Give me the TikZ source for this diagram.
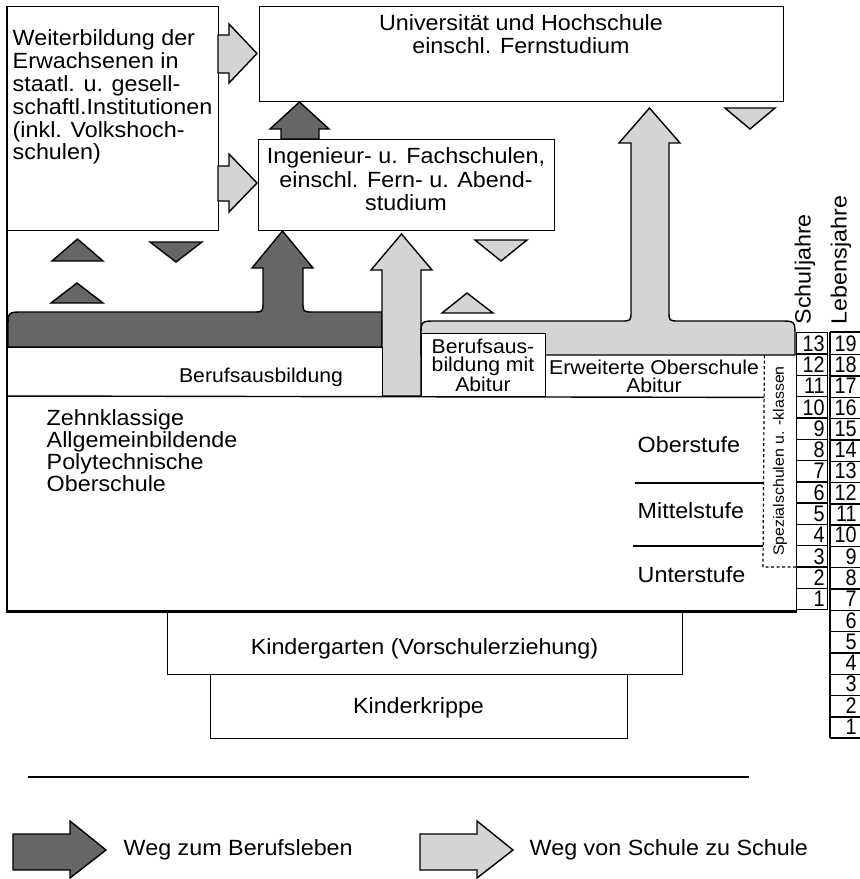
\documentclass[tikz,border=0pt]{standalone}
\usepackage{fontspec}
\setmainfont{Liberation Sans}[FakeStretch=1.06]
\newfontfamily\numfont{Liberation Sans}[FakeStretch=0.88]
\usetikzlibrary{positioning}
\definecolor{wegberuf}{HTML}{676666}
\definecolor{wegschule}{HTML}{D4D4D4}

\begin{document}
\begin{tikzpicture}[x=1pt, y=-1pt, line width=1.4pt,
  box/.style={draw, fill=white, inner sep=0pt, anchor=north west},
  flaeche/.style={inner sep=0pt, anchor=north west},
  txt/.style={inner sep=0pt, font=\fontsize{22}{23}\selectfont},
  klein/.style={inner sep=0pt, font=\fontsize{20}{18.6}\selectfont},
  zahl/.style={inner xsep=3pt, inner ysep=0pt, text width=25pt, align=right, minimum height=21.3pt, anchor=north west, font=\numfont\fontsize{22.5}{21}\selectfont},
  zumberuf/.style={draw, fill=wegberuf, line join=miter},
  zurschule/.style={draw, fill=wegschule, line join=miter}]
	\useasboundingbox (0,0) rectangle (860,879);
	\node[box, minimum width=211pt, minimum height=224pt] (wb) at (7,6) {};
	\node[box, minimum width=524pt, minimum height=95pt] (uni) at (259,6) {};
	\node[box, minimum width=296pt, minimum height=91pt] (ing) at (258,139) {};
	\node[txt, anchor=north west, align=left, font=\fontsize{22}{22.8}\selectfont] (wbtext) at (12,29.2) {Weiterbildung der\\Erwachsenen in\\staatl. u. gesell-\\schaftl.Institutionen\\(inkl. Volkshoch-\\schulen)};
	\node[txt, anchor=north, align=center] (unitext) at (521,14) {Universität und Hochschule\\einschl. Fernstudium};
	\node[txt, anchor=north, align=center, font=\fontsize{22}{23.5}\selectfont] (ingtext) at (406,147) {Ingenieur- u. Fachschulen,\\einschl. Fern- u. Abend-\\studium};
	\draw[zurschule] (218,35) -- (229,35) -- (229,24) -- (257,53.5) -- (229,83) -- (229,73) -- (218,73) -- cycle;
	\draw[zurschule] (218,166) -- (229,166) -- (229,154) -- (257,183) -- (229,212) -- (229,201) -- (218,201) -- cycle;
	\draw[zumberuf] (281,139) -- (281,129) -- (270,129) -- (299.5,102) -- (329,129) -- (319,129) -- (319,139) -- cycle;
	\draw[zumberuf] (8,347) -- (8,327) .. controls (8,312) .. (23,312) -- (253,312) .. controls (263,312) .. (263,302) -- (263,268) -- (252,268) -- (282.5,231) -- (313,268) -- (303,268) -- (303,302) .. controls (303,312) .. (313,312) -- (382,312) -- (382,347) -- cycle;
	\draw[zurschule] (382,396) -- (382,270) -- (371,270) -- (401.5,234) -- (432,270) -- (421,270) -- (421,396) -- cycle;
	\draw[zurschule] (421,355) -- (421,336) .. controls (421,321) .. (436,321) -- (621,321) .. controls (631,321) .. (631,311) -- (631,143) -- (619,143) -- (649.5,108) -- (680,143) -- (669,143) -- (669,311) .. controls (669,321) .. (679,321) -- (780,321) .. controls (795,321) .. (795,336) -- (795,355) -- cycle;
	\node[box, minimum width=375pt, minimum height=49pt] (beruf) at (7,347) {};
	\node[klein, anchor=base] (beruftext) at (261,382) {Berufsausbildung};
	\node[box, minimum width=124pt, minimum height=63pt] (bma) at (421,333) {};
	\node[klein, anchor=north, align=center] (bmatext) at (483,338) {Berufsaus-\\bildung mit\\Abitur};
	\node[flaeche, minimum width=218pt, minimum height=41pt] (eos) at (545,355) {};
	\node[klein, anchor=north, align=center, font=\fontsize{20}{18.6}\selectfont] (eostext) at (654,359) {Erweiterte Oberschule\\Abitur};
	\node[flaeche, minimum width=789pt, minimum height=214pt] (school) at (7,396) {};
	\node[txt, anchor=north west, align=left, font=\fontsize{22}{22}\selectfont] (schooltext) at (46,409) {Zehnklassige\\Allgemeinbildende\\Polytechnische\\Oberschule};
	\node[txt, anchor=base west] (ober) at (637,452) {Oberstufe};
	\node[txt, anchor=base west] (mittel) at (637,518) {Mittelstufe};
	\node[txt, anchor=base west] (unter) at (637,582) {Unterstufe};
	\draw (635,483) -- (763,483);
	\draw (633,546) -- (763,546);
	\draw[dash pattern=on 3pt off 2.5pt, line width=1.2pt] (eos.north east) -- (763,567) -- (796,567);
	\node[inner sep=0pt, rotate=90, font=\fontsize{15}{15}\selectfont] (spez) at (780,461) {Spezialschulen u. -klassen};
	\node[box, minimum width=515pt, minimum height=64pt] (kg) at (167,610) {};
	\node[txt, anchor=base] (kgtext) at (424.5,654) {Kindergarten (Vorschulerziehung)};
	\node[box, minimum width=417pt, minimum height=64pt] (kk) at (210,674) {};
	\node[txt, anchor=base] (kktext) at (418.5,713) {Kinderkrippe};
	\draw (eos.south east) -- (school.north west);
	\draw[line width=2.2pt] (wb.north west) -- (school.south west) -- (school.south east);
	\foreach \i in {1,...,13}
		\node[zahl, draw] (s\i) at (796,{332+(13-\i)*21.3}) {\i};
	\foreach \j in {1,...,19}
		\node[zahl, text width=23pt] (l\j) at (830,{332+(19-\j)*21.3}) {\j};
	\foreach \j in {1,...,19}
		\draw (l\j.south west) -- (l\j.south east);
	\draw (l19.north west) -- (l19.north east);
	\draw (l19.north west) -- (l1.south west);
	\node[txt, rotate=90, anchor=west] (sj) at (805,325) {Schuljahre};
	\node[txt, rotate=90, anchor=west] (lj) at (841,325) {Lebensjahre};
	\draw[zumberuf] (52,261) -- (77.5,239) -- (103,261) -- cycle;
	\draw[zumberuf] (150,242) -- (202,242) -- (176,262) -- cycle;
	\draw[zumberuf] (51,303) -- (77,283) -- (103,303) -- cycle;
	\draw[zurschule] (475,240) -- (527,240) -- (501,261) -- cycle;
	\draw[zurschule] (442,313) -- (467,293) -- (493,313) -- cycle;
	\draw[zurschule] (725,108) -- (775,108) -- (750,129) -- cycle;
	\draw (28,777) -- (749,777);
	\coordinate (spitzeberuf) at (106,850);
	\coordinate (spitzeschule) at (513,850);
	\draw[zumberuf] (13,834) -- (70,834) -- (70,821) -- (spitzeberuf) -- (70,878) -- (70,870) -- (13,870) -- cycle;
	\draw[zurschule] (420,834) -- (477,834) -- (477,821) -- (spitzeschule) -- (477,878) -- (477,870) -- (420,870) -- cycle;
	\node[txt, right=17pt of spitzeberuf] (legberuf) {Weg zum Berufsleben};
	\node[txt, right=16pt of spitzeschule] (legschule) {Weg von Schule zu Schule};
\end{tikzpicture}
\end{document}
